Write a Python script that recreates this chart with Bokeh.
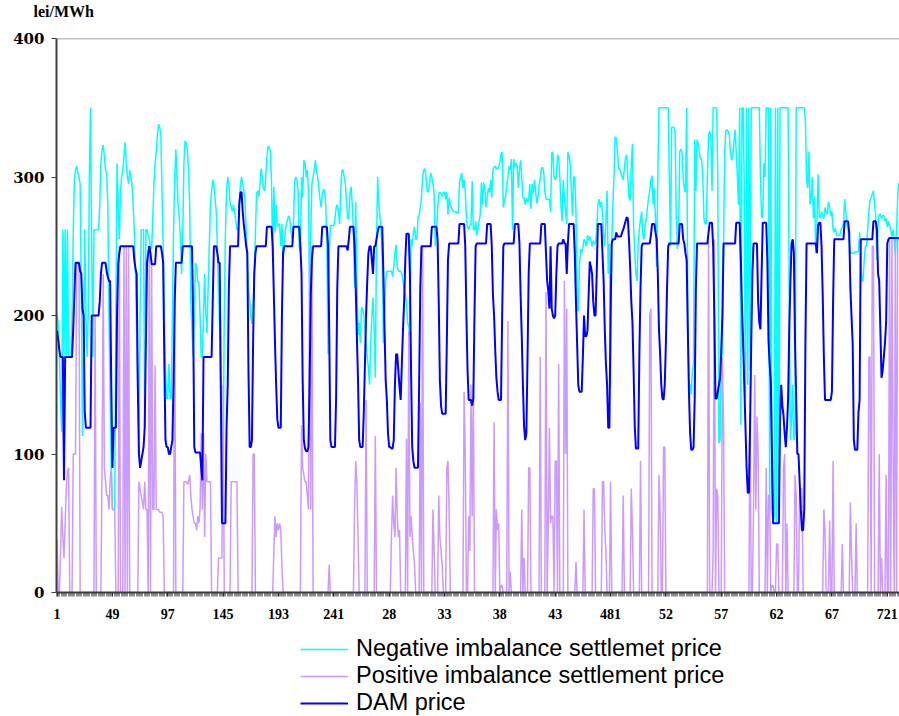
from bokeh.plotting import figure
from bokeh.layouts import column
from bokeh.models import Range1d, FixedTicker, Legend, LegendItem, Span, Title
from bokeh.embed import file_html
from bokeh.resources import INLINE

# hourly prices (lei/MWh), one row per day
neg_price = [
    200,195,170,140,116,262,170,262,170,262,170,170,170,200,260,298,305,308,303,300,295,220,113,180,
    262,200,170,200,300,350,250,170,262,262,262,262,262,280,310,320,323,315,305,303,280,200,140,90,
    60,60,60,200,310,280,255,290,300,305,315,325,310,300,295,305,300,295,280,260,230,190,150,110,
    200,262,262,262,120,262,262,258,255,250,248,270,295,310,318,330,338,336,330,290,250,200,160,140,
    140,165,140,140,200,260,300,320,300,280,270,255,230,260,310,326,325,320,305,280,210,190,170,200,
    238,235,224,224,200,170,170,200,230,200,187,220,250,280,290,298,295,285,275,250,215,190,140,91,
    91,200,260,290,300,295,282,278,275,280,275,268,262,262,280,295,300,295,290,283,260,240,220,211,
    200,194,210,225,260,288,290,286,295,306,300,292,290,300,315,322,322,318,295,242,293,260,280,264,
    266,266,250,266,240,250,262,266,270,272,268,260,255,265,296,300,298,290,250,245,300,285,312,310,
    300,305,290,213,260,295,300,305,312,305,300,292,284,278,288,291,290,280,250,172,242,265,265,265,
    265,270,278,280,276,266,290,305,305,300,295,283,270,270,288,293,280,263,220,282,225,186,195,180,
    206,205,200,190,180,170,162,150,180,200,213,190,155,250,300,280,272,262,240,180,200,225,232,232,
    232,232,232,228,235,245,251,235,232,232,232,230,225,220,215,210,195,192,185,255,250,260,264,255,
    255,270,273,278,285,300,305,306,300,290,289,295,303,300,295,288,250,260,275,288,289,288,286,289,
    289,284,289,273,285,280,278,276,275,275,275,274,274,296,300,303,292,298,290,270,264,262,265,266,
    297,262,262,268,258,262,268,273,296,280,296,292,278,285,292,289,298,285,305,307,308,306,306,307,
    310,316,318,278,283,286,294,300,308,305,313,262,313,307,310,308,292,305,312,300,285,285,280,285,
    282,283,295,277,295,288,298,290,281,285,294,298,306,307,304,290,284,284,284,284,275,318,317,300,
    298,300,316,314,300,280,268,298,285,275,266,318,315,310,290,272,300,300,276,210,203,235,248,245,
    249,255,253,250,258,254,257,254,250,254,252,252,262,280,284,278,282,275,258,250,270,290,230,252,
    148,250,280,300,329,328,318,306,306,303,300,298,306,314,316,300,285,283,310,324,265,245,230,225,
    252,262,270,275,258,255,265,270,278,285,290,298,301,280,292,270,235,300,350,350,350,350,350,350,
    350,350,350,300,250,336,336,336,333,270,248,255,318,320,318,300,292,289,350,200,150,150,143,160,
    165,327,290,327,324,318,313,313,300,270,266,266,300,331,333,330,290,350,350,350,350,300,108,110,
    170,172,250,318,334,334,333,330,318,312,315,325,334,318,300,280,350,121,350,350,290,140,350,150,
    350,160,350,350,350,350,350,350,350,350,300,271,271,310,300,350,350,350,60,350,60,50,55,350,
    50,350,50,350,350,350,350,350,350,350,350,200,110,125,150,110,115,350,350,350,350,350,350,350,
    350,340,298,292,318,280,285,300,270,286,245,265,302,272,270,275,272,270,278,275,273,282,278,272,
    275,262,260,263,258,258,258,258,262,264,266,284,275,266,262,253,246,245,245,245,246,246,246,246,
    260,240,225,225,240,250,250,262,275,283,285,288,290,280,272,240,265,273,273,270,272,272,268,270,
    264,268,265,262,257,262,255,244,260,285,296,
]

pos_price = [
    38,0,0,30,62,40,25,50,75,88,90,0,0,0,100,100,100,238,238,238,0,0,0,0,
    0,0,0,0,0,0,0,0,0,200,0,0,0,0,0,90,230,90,80,70,70,60,80,90,
    60,60,60,0,0,0,250,0,0,0,250,0,250,0,250,0,0,0,0,0,0,0,0,80,
    75,70,65,60,80,60,60,0,250,0,240,60,60,164,60,60,60,58,58,58,55,0,0,0,
    0,0,0,0,0,0,218,0,0,0,0,0,0,0,80,80,80,78,80,85,70,60,55,50,
    50,45,55,50,60,115,60,115,40,100,80,80,80,80,0,0,0,0,0,0,25,25,25,25,
    150,0,0,0,0,0,0,80,80,80,80,80,80,0,0,0,0,0,0,0,0,0,0,0,
    0,0,100,100,0,0,0,0,0,0,0,0,0,0,0,0,0,0,0,0,30,55,40,50,
    45,50,45,20,0,0,0,0,0,0,0,0,0,0,0,0,0,0,0,0,121,90,85,80,
    80,70,60,250,60,250,0,0,0,0,0,0,0,0,0,0,0,0,0,0,20,0,0,0,
    0,0,0,0,0,0,0,0,0,0,0,0,0,0,0,0,0,0,60,95,80,40,0,0,
    0,0,0,0,139,0,0,0,0,0,0,0,113,0,0,0,0,0,0,0,0,0,0,0,
    0,0,40,70,50,40,90,55,40,45,0,0,0,0,0,111,0,189,40,55,40,30,20,0,
    0,0,0,137,0,250,0,0,0,0,0,0,0,0,60,30,0,0,0,70,40,30,20,0,
    0,0,90,95,60,0,0,0,0,0,0,0,0,0,0,0,0,145,100,0,0,55,30,150,
    55,150,0,0,0,0,0,0,0,0,0,0,0,0,0,0,0,0,0,123,0,60,45,50,
    0,5,5,0,0,0,0,196,0,15,0,0,0,0,0,0,0,0,0,60,0,25,0,0,
    0,90,90,0,0,0,0,0,0,0,0,170,0,0,0,0,217,0,50,119,50,55,55,0,
    95,95,0,165,0,0,0,0,225,100,205,0,0,0,0,0,0,0,22,0,0,0,0,0,
    0,60,0,0,0,0,0,0,0,75,75,0,0,0,0,0,0,80,80,45,30,0,0,0,
    80,0,0,0,0,0,0,0,0,0,0,70,0,0,0,0,0,0,75,45,0,0,0,0,
    0,0,95,0,0,0,0,0,0,0,200,205,0,0,0,0,0,0,85,60,0,0,105,105,
    0,0,0,0,0,0,0,0,0,0,0,0,0,0,0,0,0,0,0,0,0,0,0,0,
    0,0,0,0,0,0,0,0,0,0,0,0,0,255,0,0,0,30,255,0,75,70,0,0,
    0,170,120,0,0,0,0,0,0,0,0,0,0,0,0,0,0,0,0,0,0,0,0,0,
    0,130,0,0,60,157,60,127,100,0,0,0,0,0,0,90,0,70,70,0,5,5,0,0,
    35,35,0,0,0,0,90,100,0,50,0,0,0,0,0,0,85,70,0,0,75,75,75,0,
    0,0,0,0,0,0,0,0,0,0,0,0,0,0,0,0,0,60,45,0,0,0,52,0,
    0,95,0,0,0,0,0,0,0,35,0,0,0,0,0,0,65,27,0,0,0,50,0,0,
    0,0,0,0,0,0,0,0,170,170,0,250,250,0,0,0,0,100,0,25,0,0,0,85,
    0,0,255,0,255,100,0,255,0,255,255,
]

dam_price = [
    189,182,175,170,170,170,81,170,170,170,170,170,170,170,190,215,238,238,238,238,232,230,205,200,
    130,119,119,119,119,119,200,200,200,200,200,200,200,210,230,238,238,238,238,232,228,225,225,150,
    90,119,119,119,200,238,245,250,250,250,250,250,250,250,250,250,250,250,250,240,234,230,150,100,
    90,95,100,105,119,180,238,245,250,245,237,237,237,237,250,250,250,250,250,245,238,170,110,105,
    105,100,100,105,110,150,210,238,238,238,238,238,238,250,250,250,250,250,250,250,250,250,200,105,
    101,101,101,101,101,90,81,170,170,170,170,170,170,170,170,210,250,250,250,245,238,238,150,50,
    50,50,50,120,150,220,250,250,250,250,250,250,250,250,280,289,289,275,265,258,250,245,160,105,
    105,110,180,230,245,250,250,250,250,250,250,250,250,250,264,264,264,264,264,250,215,180,150,125,
    119,119,119,200,245,250,250,250,250,250,250,250,250,264,264,264,264,264,264,250,230,153,110,104,
    102,102,105,150,215,240,250,250,250,250,250,250,250,250,264,264,264,264,264,250,190,110,105,105,
    105,105,140,220,250,250,250,250,250,250,250,250,247,255,264,264,264,264,250,220,185,153,110,105,
    105,105,130,165,200,225,245,250,250,240,230,250,250,255,260,264,264,264,264,230,190,153,139,115,
    105,105,104,104,110,150,172,172,160,148,139,165,190,210,240,259,259,259,230,160,105,95,90,90,
    90,90,150,220,250,250,250,250,250,250,250,250,250,264,264,264,264,264,255,210,153,135,129,129,
    129,129,180,240,252,252,252,252,252,252,252,252,252,266,266,266,266,266,250,200,160,139,139,139,
    135,140,200,250,252,252,252,252,252,252,252,252,252,266,266,266,266,250,215,200,175,155,145,139,
    139,139,200,250,252,252,252,252,252,252,252,252,252,266,266,266,266,252,215,185,150,120,110,115,
    170,230,252,252,252,252,252,252,252,252,252,252,266,266,266,266,245,225,218,205,250,205,200,198,
    200,230,250,252,252,252,252,255,252,252,230,252,266,266,266,266,266,245,210,180,150,145,145,145,
    170,200,185,185,189,215,239,235,230,210,200,200,230,266,266,266,266,245,225,190,165,150,119,119,
    200,252,255,255,255,260,257,257,257,257,260,262,265,268,271,270,255,235,210,195,160,120,104,104,
    104,172,220,250,252,252,252,252,252,252,252,258,266,266,266,260,255,230,190,172,150,140,139,150,
    180,220,250,252,252,252,252,252,252,252,252,252,266,266,266,255,252,245,240,190,145,115,103,103,
    105,140,220,252,252,252,252,252,252,252,252,252,252,260,267,267,267,250,200,140,140,145,150,155,
    175,200,252,252,252,252,252,252,252,252,252,252,252,267,267,267,267,240,205,180,150,120,90,72,
    72,120,180,230,252,252,252,252,210,195,190,230,267,267,267,267,240,182,165,152,100,50,50,50,
    50,50,50,125,150,135,128,115,105,119,140,190,225,252,255,245,180,140,100,100,80,60,45,45,
    60,180,252,252,252,252,252,252,252,252,252,245,265,267,267,250,215,170,139,139,139,139,139,139,
    145,210,255,255,255,255,255,255,255,255,255,268,268,268,268,260,220,199,180,110,103,103,103,130,
    139,255,255,255,255,255,255,255,255,255,255,255,268,268,268,262,230,225,190,155,160,170,180,195,
    252,255,256,256,256,256,256,256,256,256,256,
]

tick_hours = [1, 49, 97, 145, 193, 241, 289, 337, 385, 433, 481, 529, 577, 625, 673, 721]
tick_labels = ["1", "49", "97", "145", "193", "241", "28", "33", "38", "43",
               "481", "52", "57", "62", "67", "721"]
y_ticks = [0, 100, 200, 300, 400]
series_names = ["Negative imbalance settlemet price",
                "Positive imbalance settlement price",
                "DAM price"]
series_colors = ["#00FFFF", "#CC99FF", "#0000FF"]
series_widths = [1.5, 1.5, 2]
all_series = [neg_price, pos_price, dam_price]

# ---------------- main chart ----------------
p = figure(width=899, height=632, output_backend="svg", toolbar_location=None,
           x_range=Range1d(0.5, 731.6), y_range=Range1d(0, 400),
           min_border_left=56, min_border_right=0, min_border_top=38,
           min_border_bottom=40)
p.xgrid.visible = False
p.ygrid.visible = False
p.outline_line_color = None
p.background_fill_color = "white"
p.border_fill_color = "white"

for vals, col, lw in zip(all_series, series_colors, series_widths):
    p.line(list(range(1, len(vals) + 1)), vals, line_color=col, line_width=lw)

p.add_layout(Span(location=400, dimension="width", line_color="#808080", line_width=1.5))

ya = p.yaxis[0]
ya.ticker = FixedTicker(ticks=y_ticks)
ya.axis_line_color = "#404040"
ya.axis_line_width = 2
ya.major_tick_out = 5
ya.major_tick_in = 0
ya.major_tick_line_color = "#404040"
ya.minor_tick_line_color = None
ya.major_label_standoff = 7
ya.major_label_text_font = "DejaVu Serif"
ya.major_label_text_font_style = "bold"
ya.major_label_text_font_size = "15px"
ya.major_label_text_color = "black"

xa = p.xaxis[0]
xa.ticker = FixedTicker(ticks=tick_hours, minor_ticks=[k + 0.5 for k in range(0, 732)])
xa.major_label_overrides = {t: s for t, s in zip(tick_hours, tick_labels)}
xa.axis_line_color = "#404040"
xa.axis_line_width = 2
xa.major_tick_out = 4
xa.major_tick_in = 0
xa.minor_tick_out = 4
xa.minor_tick_in = 0
xa.major_tick_line_color = "#303030"
xa.minor_tick_line_color = "#303030"
xa.minor_tick_line_alpha = 0.55
xa.major_label_standoff = 12
xa.major_label_text_font = "Liberation Serif"
xa.major_label_text_font_style = "bold"
xa.major_label_text_font_size = "14px"
xa.major_label_text_color = "black"

p.add_layout(Title(text="lei/MWh\n", align="left", offset=-23, standoff=0,
                   vertical_align="top",
                   text_font="Liberation Serif", text_font_style="bold",
                   text_font_size="16px", text_color="black"), "above")

# ---------------- legend strip ----------------
q = figure(width=899, height=84, output_backend="svg", toolbar_location=None,
           x_axis_type=None, y_axis_type=None,
           x_range=Range1d(0.5, 731.6), y_range=Range1d(-2000, -1900),
           min_border_left=0, min_border_right=0, min_border_top=0, min_border_bottom=0)
q.xgrid.visible = False
q.ygrid.visible = False
q.outline_line_color = None
q.background_fill_color = "white"
q.border_fill_color = "white"
items = []
for name, vals, col, lw in zip(series_names, all_series, series_colors, series_widths):
    r = q.line(list(range(1, len(vals) + 1)), vals, line_color=col, line_width=lw)
    items.append(LegendItem(label=name, renderers=[r]))
legend = Legend(items=items, location=(244, 0), orientation="vertical",
                label_text_font="Liberation Sans", label_text_font_size="23.5px",
                label_text_color="black", glyph_width=48, glyph_height=20,
                label_standoff=8, spacing=-1, padding=0, margin=0,
                border_line_color=None, background_fill_alpha=0)
q.add_layout(legend, "center")

layout = column(p, q, spacing=0)
open("out.html", "w").write(file_html(layout, INLINE))
